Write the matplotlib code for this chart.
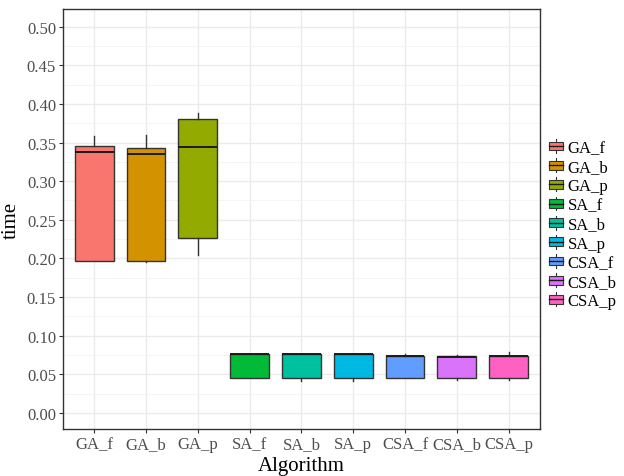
import matplotlib
matplotlib.use("Agg")
import matplotlib.pyplot as plt
from matplotlib.legend_handler import HandlerBase
from matplotlib.patches import Rectangle
from matplotlib.lines import Line2D
from matplotlib.ticker import MultipleLocator

plt.rcParams['font.family'] = ['Liberation Serif', 'DejaVu Serif']

algorithms = ["GA_f", "GA_b", "GA_p", "SA_f", "SA_b", "SA_p", "CSA_f", "CSA_b", "CSA_p"]
colors = ["#F8766D", "#D39200", "#93AA00", "#00BA38", "#00C19F",
          "#00B9E3", "#619CFF", "#DB72FB", "#FF61C3"]

# box statistics
whislo = [0.196, 0.195, 0.204, 0.045, 0.041, 0.0415, 0.0455, 0.043, 0.042]
q1 = [0.197, 0.197, 0.226, 0.045, 0.045, 0.045, 0.0457, 0.0457, 0.0457]
med = [0.338, 0.335, 0.344, 0.0762, 0.0762, 0.0762, 0.0732, 0.0728, 0.0732]
q3 = [0.345, 0.343, 0.381, 0.0764, 0.0764, 0.0764, 0.0734, 0.073, 0.0734]
whishi = [0.359, 0.360, 0.388, 0.0766, 0.0766, 0.0766, 0.076, 0.075, 0.079]

stats = []
for i, name in enumerate(algorithms):
    stats.append(dict(label=name, whislo=whislo[i], q1=q1[i], med=med[i],
                      q3=q3[i], whishi=whishi[i], fliers=[]))

fig = plt.figure(figsize=(6.24, 4.77), dpi=100)
ax = fig.add_axes([0.101, 0.0985, 0.764, 0.8805])

positions = list(range(1, len(algorithms) + 1))
bp = ax.bxp(stats, positions=positions, widths=0.75, patch_artist=True,
            showfliers=False, showcaps=False,
            boxprops=dict(edgecolor="#333333", linewidth=1.0),
            medianprops=dict(color="#1a1a1a", linewidth=1.4),
            whiskerprops=dict(color="#333333", linewidth=1.0), zorder=3)
for patch, c in zip(bp['boxes'], colors):
    patch.set_facecolor(c)

ax.set_xlim(0.4, 9.6)
ax.set_ylim(-0.021, 0.523)
ax.set_xticks(positions)
ax.set_xticklabels(algorithms)
ax.yaxis.set_minor_locator(MultipleLocator(0.025))
ax.set_yticks([i * 0.05 for i in range(11)])
ax.set_yticklabels(["%.2f" % (i * 0.05) for i in range(11)])

ax.grid(True, which='major', color="#EBEBEB", linewidth=1.0, zorder=0)
ax.grid(True, which='minor', axis='y', color="#F3F3F3", linewidth=0.6, zorder=0)
ax.set_axisbelow(True)
ax.tick_params(axis='both', which='major', length=3, width=0.8, color="#333333",
               labelsize=12, labelcolor="#4D4D4D", pad=2)
ax.tick_params(axis='y', which='minor', length=0)
for s in ax.spines.values():
    s.set_color("#333333")
    s.set_linewidth(1.0)

ax.set_xlabel("Algorithm", fontsize=15, labelpad=3)
ax.set_ylabel("time", fontsize=15)
ax.yaxis.set_label_coords(-0.088, 0.5)


class BoxHandler(HandlerBase):
    def create_artists(self, legend, orig_handle, xdescent, ydescent,
                       width, height, fontsize, trans):
        c = orig_handle.get_facecolor()
        x0 = -xdescent
        w = width
        y0 = -ydescent
        xm = x0 + w / 2
        r = Rectangle((x0, y0 + height * 0.18), w, height * 0.64,
                      facecolor=c, edgecolor="#333333", linewidth=0.8, transform=trans)
        m = Line2D([x0, x0 + w], [y0 + height / 2] * 2, color="#1a1a1a",
                   linewidth=1.0, transform=trans)
        wt = Line2D([xm, xm], [y0 + height * 0.82, y0 + height], color="#333333",
                    linewidth=0.8, transform=trans)
        wb = Line2D([xm, xm], [y0, y0 + height * 0.18], color="#333333",
                    linewidth=0.8, transform=trans)
        return [r, m, wt, wb]


handles = [Rectangle((0, 0), 1, 1, facecolor=c) for c in colors]
leg = fig.legend(handles, algorithms, handler_map={Rectangle: BoxHandler()},
                 loc='center left', bbox_to_anchor=(0.88, 0.528), frameon=False,
                 fontsize=12, handlelength=0.85, handleheight=0.9,
                 handletextpad=0.25, labelspacing=0.15, borderpad=0, borderaxespad=0)

fig.savefig("out.png", dpi=100)
